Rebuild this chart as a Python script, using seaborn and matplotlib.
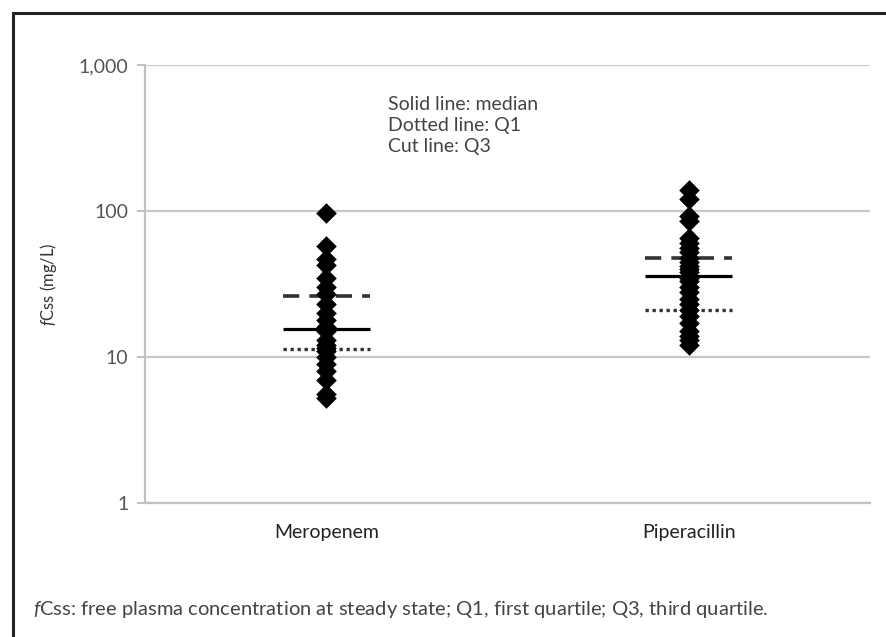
import matplotlib
matplotlib.use("Agg")
import matplotlib.pyplot as plt
import seaborn as sns
import pandas as pd
import numpy as np
from matplotlib.patches import Rectangle

categories = ["Meropenem", "Piperacillin"]
meropenem = [97, 58, 47, 43, 35, 30, 27, 23, 20, 18, 16, 15, 13, 12, 11.5, 11, 10, 9, 8, 7, 5.6, 5.2]
piperacillin = [140, 120, 93, 85, 65, 60, 56, 52, 48, 45, 42, 40, 38, 35, 33, 30, 28, 25, 23,
                21, 19, 17, 15, 14, 13, 12]
medians = [15.5, 36]
q1 = [11.3, 21]
q3 = [26, 48]
yticks = [1, 10, 100, 1000]
ytick_labels = ["1", "10", "100", "1,000"]

df = pd.DataFrame({
    "drug": [categories[0]] * len(meropenem) + [categories[1]] * len(piperacillin),
    "value": meropenem + piperacillin,
})

sns.set_theme(style="white")
plt.rcParams["font.family"] = ["Lato", "DejaVu Sans"]
plt.rcParams["mathtext.fontset"] = "custom"
plt.rcParams["mathtext.it"] = "Lato:italic"
plt.rcParams["mathtext.rm"] = "Lato"

fig = plt.figure(figsize=(8.87, 6.37), dpi=100)
ax = fig.add_axes([145 / 887, 1 - 503 / 637, (870 - 145) / 887, (503 - 65) / 637])

sns.stripplot(data=df, x="drug", y="value", order=categories, jitter=False,
              marker="D", size=10.5, color="black", linewidth=0, ax=ax, zorder=3,
              log_scale=True)

ax.set_yscale("log")
ax.set_ylim(1, 1000)
ax.set_xlim(-0.5, 1.5)
ax.set_yticks(yticks)
ax.set_yticklabels(ytick_labels)
ax.minorticks_off()
ax.yaxis.grid(True, color="#c8c8c8", linewidth=1.6)
ax.set_axisbelow(True)

hw = 0.12
for i in range(len(categories)):
    ax.plot([i - hw, i + hw], [medians[i]] * 2, color="black", lw=2.3, zorder=4,
            solid_capstyle="butt")
    ax.plot([i - hw, i + hw], [q3[i]] * 2, color="#333333", lw=2.6, zorder=2,
            dashes=(4.5, 2.8))
    ax.plot([i - hw, i + hw], [q1[i]] * 2, color="#333333", lw=2.4, zorder=2,
            dashes=(1.0, 1.1))

for s in ["top", "right"]:
    ax.spines[s].set_visible(False)
for s in ["left", "bottom"]:
    ax.spines[s].set_color("#c0c0c0")
    ax.spines[s].set_linewidth(1.6)

ax.tick_params(axis="y", which="major", length=6, width=1.4, color="#c0c0c0",
               labelsize=14, labelcolor="#555555", pad=6, left=True)
ax.tick_params(axis="x", length=0, labelsize=14, labelcolor="#222222", pad=15)
ax.set_xlabel("")
ax.set_ylabel(r"$f$Css (mg/L)", fontsize=12, color="#333333")
ax.yaxis.set_label_coords(-0.118, 0.5)

fig.text(388 / 887, 1 - 96 / 637, "Solid line: median\nDotted line: Q1\nCut line: Q3",
         fontsize=14, color="#444444", va="top", ha="left", linespacing=1.3)

fig.text(33 / 887, 1 - 609 / 637,
         r"$f$Css: free plasma concentration at steady state; Q1, first quartile; Q3, third quartile.",
         fontsize=14.5, color="#444444", va="center", ha="left")

fig.patches.append(Rectangle((13 / 887, -0.1), 1.0, 1 - 13 / 637 + 0.1,
                             transform=fig.transFigure, fill=False,
                             edgecolor="#222222", linewidth=2.2))

fig.savefig("out.png", dpi=100)
